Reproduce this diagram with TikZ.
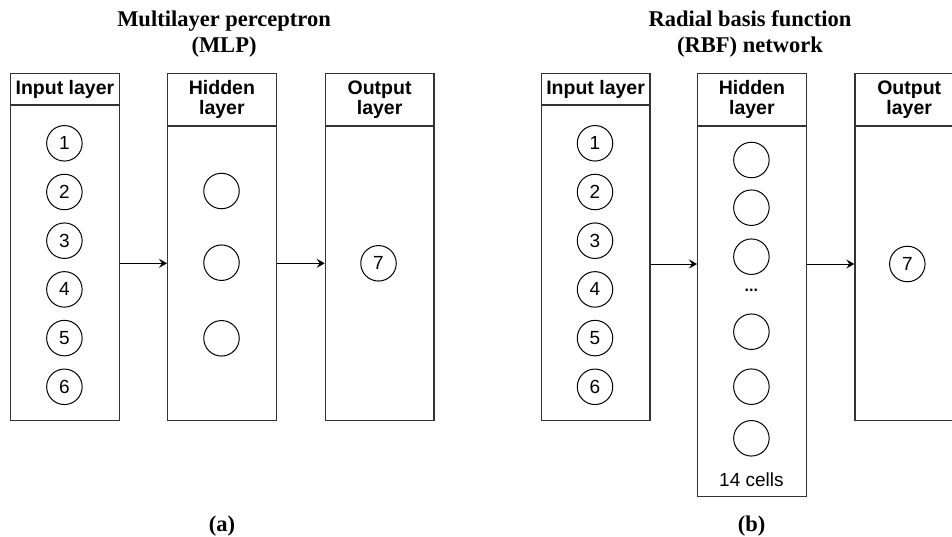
\documentclass[tikz,border=0pt]{standalone}
\usepackage{fontspec}
\setmainfont{Liberation Serif}
\setsansfont{Liberation Sans}
\usetikzlibrary{arrows.meta,positioning}
\tikzset{
  capa/.style={draw=black!80,line width=1.2pt,minimum width=108.6pt,inner sep=0pt,anchor=north west},
  raya/.style={draw=black!80,line width=1.2pt},
  nodo/.style={circle,draw,line width=1pt,minimum size=35.5pt,inner sep=0pt,font=\sffamily\fontsize{19}{19}\selectfont},
  cabecera/.style={font=\sffamily\bfseries\fontsize{19.5}{20.5}\selectfont,align=center},
  titulo/.style={font=\bfseries\fontsize{22.5}{26}\selectfont,align=center},
  flecha/.style={-{Stealth[length=8pt,width=9pt,inset=3pt]},line width=1pt}
}

\begin{document}
\begin{tikzpicture}[x=1pt,y=-1pt]
\useasboundingbox (0,0) rectangle (952,537);
\clip (0,0) rectangle (952,537);
% (a) perceptron multicapa
\node[titulo] (titA) at (224,34) {Multilayer perceptron\\(MLP)};
\node[capa,minimum height=347.3pt] (inA) at (10,72.7) {};
\node[capa,minimum height=347.3pt] (hidA) at (167,72.7) {};
\node[capa,minimum height=347.3pt] (outA) at (324.7,72.7) {};
\draw[raya] (inA.west |- 0,105) -- (inA.east |- 0,105);
\draw[raya] (hidA.west |- 0,126) -- (hidA.east |- 0,126);
\draw[raya] (outA.west |- 0,126) -- (outA.east |- 0,126);
\node[cabecera] (cinA) at (inA.north |- 0,89.5) {Input layer};
\node[cabecera] (chidA) at (hidA.north |- 0,99.5) {Hidden\\layer};
\node[cabecera] (coutA) at (outA.north |- 0,99.5) {Output\\layer};
\foreach \n in {1,...,6}{\pgfmathsetmacro{\y}{143.3+48.7*(\n-1)}\node[nodo] (a\n) at (64.4,\y) {\n};}
\foreach \y [count=\i] in {191,262.7,338.3}{\node[nodo] (ha\i) at (221.5,\y) {};}
\node[nodo] (a7) at (378.5,263.3) {7};
\draw[flecha] (inA.east |- a7) -- (hidA.west |- a7);
\draw[flecha] (hidA.east |- a7) -- (outA.west |- a7);
\node[titulo] (etA) at (222,526) {(a)};
% (b) red RBF
\node[titulo] (titB) at (750,34) {Radial basis function\\(RBF) network};
\node[capa,minimum height=347.3pt] (inB) at (540.7,72.7) {};
\node[capa,minimum height=423pt] (hidB) at (697,72.7) {};
\node[capa,minimum height=347.3pt] (outB) at (854.3,72.7) {};
\draw[raya] (inB.west |- 0,105) -- (inB.east |- 0,105);
\draw[raya] (hidB.west |- 0,126) -- (hidB.east |- 0,126);
\draw[raya] (outB.west |- 0,126) -- (outB.east |- 0,126);
\node[cabecera] (cinB) at (inB.north |- 0,89.5) {Input layer};
\node[cabecera] (chidB) at (hidB.north |- 0,99.5) {Hidden\\layer};
\node[cabecera] (coutB) at (outB.north |- 0,99.5) {Output\\layer};
\foreach \n in {1,...,6}{\pgfmathsetmacro{\y}{143.3+48.7*(\n-1)}\node[nodo] (b\n) at (595,\y) {\n};}
\foreach \y [count=\i] in {160,207.7,256.7,331.7,386.7,438.3}{\node[nodo] (hb\i) at (751.4,\y) {};}
\node[font=\sffamily\bfseries\fontsize{16}{16}\selectfont] (pts) at (751.4,290) {...};
\node[font=\sffamily\fontsize{19}{19}\selectfont] (celdas) at (751.4,480) {14 cells};
\node[nodo] (b7) at (907.3,264) {7};
\draw[flecha] (inB.east |- b7) -- (hidB.west |- b7);
\draw[flecha] (hidB.east |- b7) -- (outB.west |- b7);
\node[titulo] (etB) at (751.5,526) {(b)};
\end{tikzpicture}
\end{document}
